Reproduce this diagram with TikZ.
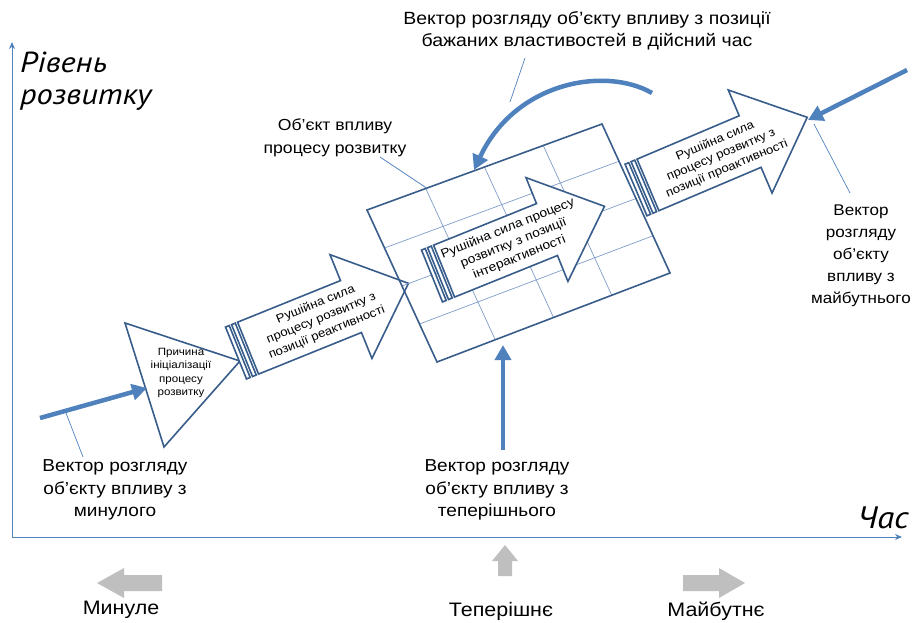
\documentclass[tikz,border=0pt]{standalone}
\usepackage{fontspec}
\setmainfont{Liberation Sans}[FakeStretch=1.1]
\newfontfamily\ptsans{PT Sans}[FakeStretch=1.12]
\usetikzlibrary{arrows.meta,calc}
\definecolor{dblue}{HTML}{385D8A}
\definecolor{mblue}{HTML}{4F81BD}
\definecolor{gblue}{HTML}{7F9CC8}
\definecolor{lgrey}{HTML}{BFBFBF}
\tikzset{
  outl/.style={draw=dblue, line width=1.6pt, fill=white, line join=miter},
  boxl/.style={draw=dblue, line width=1.6pt, line join=miter},
  gridl/.style={draw=gblue, line width=0.7pt},
  thickarr/.style={draw=mblue, line width=4.5pt, -{Triangle[length=15pt,width=16pt]}},
  leader/.style={draw=mblue, line width=0.7pt},
  lbl/.style={align=center, text=black, inner sep=0pt},
  bigit/.style={font=\ptsans\itshape\fontsize{29}{32}\selectfont, align=left, text=black, inner sep=0pt},
  arrtxt/.style={align=center, inner sep=0pt, transform shape, text=black},
  greyarr/.style={fill=lgrey, draw=none},
  axisl/.style={draw=mblue, line width=0.9pt, -{Stealth[length=7pt,width=6pt]}}
}
\newcommand\drawstripedarrow{%
  \path[outl] (0,-28) rectangle (4,28);
  \path[outl] (6.5,-28) rectangle (10.5,28);
  \path[outl] (13,-28) -- (124,-28) -- (124,-56) -- (186,0) -- (124,56) -- (124,28) -- (13,28) -- cycle;
}
\begin{document}
\begin{tikzpicture}[x=1pt,y=-1pt]
\useasboundingbox (0,0) rectangle (913,622);

% axes
\coordinate (origin) at (12,537);
\coordinate (yend) at (12,42);
\coordinate (xend) at (902,537);
\draw[axisl] (origin) -- (yend);
\draw[axisl] (origin) -- (xend);
\node[bigit, anchor=north west] (ylabel) at (20,52) {Рівень\\розвитку};
\node[font=\ptsans\itshape\fontsize{31}{32}\selectfont, inner sep=0pt] (xlabel) at (883,518) {Час};

% triangle
\path[outl] (125,323) -- (240,361) -- (164,447) -- cycle;
\node[align=center, inner sep=0pt, font=\fontsize{10.5}{13.5}\selectfont] (cause) at (181,373) {Причина\\ініціалізації\\процесу\\розвитку};

% reactive arrow
\begin{scope}[shift={(236,353)}, rotate=22]
  \drawstripedarrow
  \node[arrtxt, font=\fontsize{12}{15}\selectfont] (reactxt) at (92,0) {Рушійна сила\\процесу розвитку з\\позиції реактивності};
\end{scope}

% object box with grid
\coordinate (TL) at (367,210);
\coordinate (TR) at (602,124);
\coordinate (BR) at (670,273);
\coordinate (BL) at (437,362);
\foreach \t in {0.25,0.5,0.75}{
  \draw[gridl] ($(TL)!\t!(TR)$) -- ($(BL)!\t!(BR)$);
  \draw[gridl] ($(TL)!\t!(BL)$) -- ($(TR)!\t!(BR)$);
}
\draw[boxl] (TL) -- (TR) -- (BR) -- (BL) -- cycle;

% interactive arrow
\begin{scope}[shift={(432,276)}, rotate=22]
  \drawstripedarrow
  \node[arrtxt, font=\fontsize{12.5}{15.5}\selectfont] (intertxt) at (88,0) {Рушійна сила процесу\\розвитку з позиції\\інтерактивності};
\end{scope}

% proactive arrow
\begin{scope}[shift={(636,190)}, rotate=23]
  \drawstripedarrow
  \node[arrtxt, font=\fontsize{12}{15}\selectfont] (protxt) at (92,1) {Рушійна сила\\процесу розвитку з\\позиції проактивності};
\end{scope}

% thick vectors
\coordinate (pastS) at (40,418);
\coordinate (pastE) at (147,388);
\draw[thickarr] (pastS) -- (pastE);
\coordinate (presS) at (503,450);
\coordinate (presE) at (503,345);
\draw[thickarr] (presS) -- (presE);
\coordinate (futS) at (907,70);
\coordinate (futE) at (808,120);
\draw[thickarr] (futS) -- (futE);
\coordinate (curS) at (652,93);
\coordinate (curE) at (474,170);
\draw[thickarr] (curS) .. controls (605,66) and (515,82) .. (curE);

% labels and leaders
\node[lbl, font=\fontsize{17.7}{22.5}\selectfont] (toptxt) at (587,31) {Вектор розгляду об'єкту впливу з позиції\\бажаних властивостей в дійсний час};
\coordinate (topL1) at (525,58);
\coordinate (topL2) at (510,102);
\draw[leader] (topL1) -- (topL2);

\node[lbl, font=\fontsize{16}{23}\selectfont] (objtxt) at (335,138) {Об'єкт впливу\\процесу розвитку};
\coordinate (objL1) at (380,157);
\coordinate (objL2) at (428,189);
\draw[leader] (objL1) -- (objL2);

\node[lbl, font=\fontsize{17.3}{22.5}\selectfont] (pasttxt) at (115,490) {Вектор розгляду\\об'єкту впливу з\\минулого};
\coordinate (pastL1) at (66,413);
\coordinate (pastL2) at (83,457);
\draw[leader] (pastL1) -- (pastL2);

\node[lbl, font=\fontsize{17.3}{22.5}\selectfont] (prestxt) at (497,490) {Вектор розгляду\\об'єкту впливу з\\теперішнього};

\node[lbl, font=\fontsize{15.5}{22}\selectfont] (futtxt) at (861,256) {Вектор\\розгляду\\об'єкту\\впливу з\\майбутнього};
\coordinate (futL1) at (814,124);
\coordinate (futL2) at (850,193);
\draw[leader] (futL1) -- (futL2);

% grey direction arrows
\path[greyarr] (97,583) -- (124,568) -- (124,575) -- (162,575) -- (162,591) -- (124,591) -- (124,598) -- cycle;
\path[greyarr] (505,545) -- (518,561) -- (512,561) -- (512,576) -- (498,576) -- (498,561) -- (492,561) -- cycle;
\path[greyarr] (745,583) -- (719,568) -- (719,575) -- (683,575) -- (683,591) -- (719,591) -- (719,598) -- cycle;
\node[lbl, font=\fontsize{19.5}{22}\selectfont] (pastw) at (121,610) {Минуле};
\node[lbl, font=\fontsize{19.5}{22}\selectfont] (presw) at (501,611) {Теперішнє};
\node[lbl, font=\fontsize{19.5}{22}\selectfont] (futw) at (716,611) {Майбутнє};
\end{tikzpicture}
\end{document}
